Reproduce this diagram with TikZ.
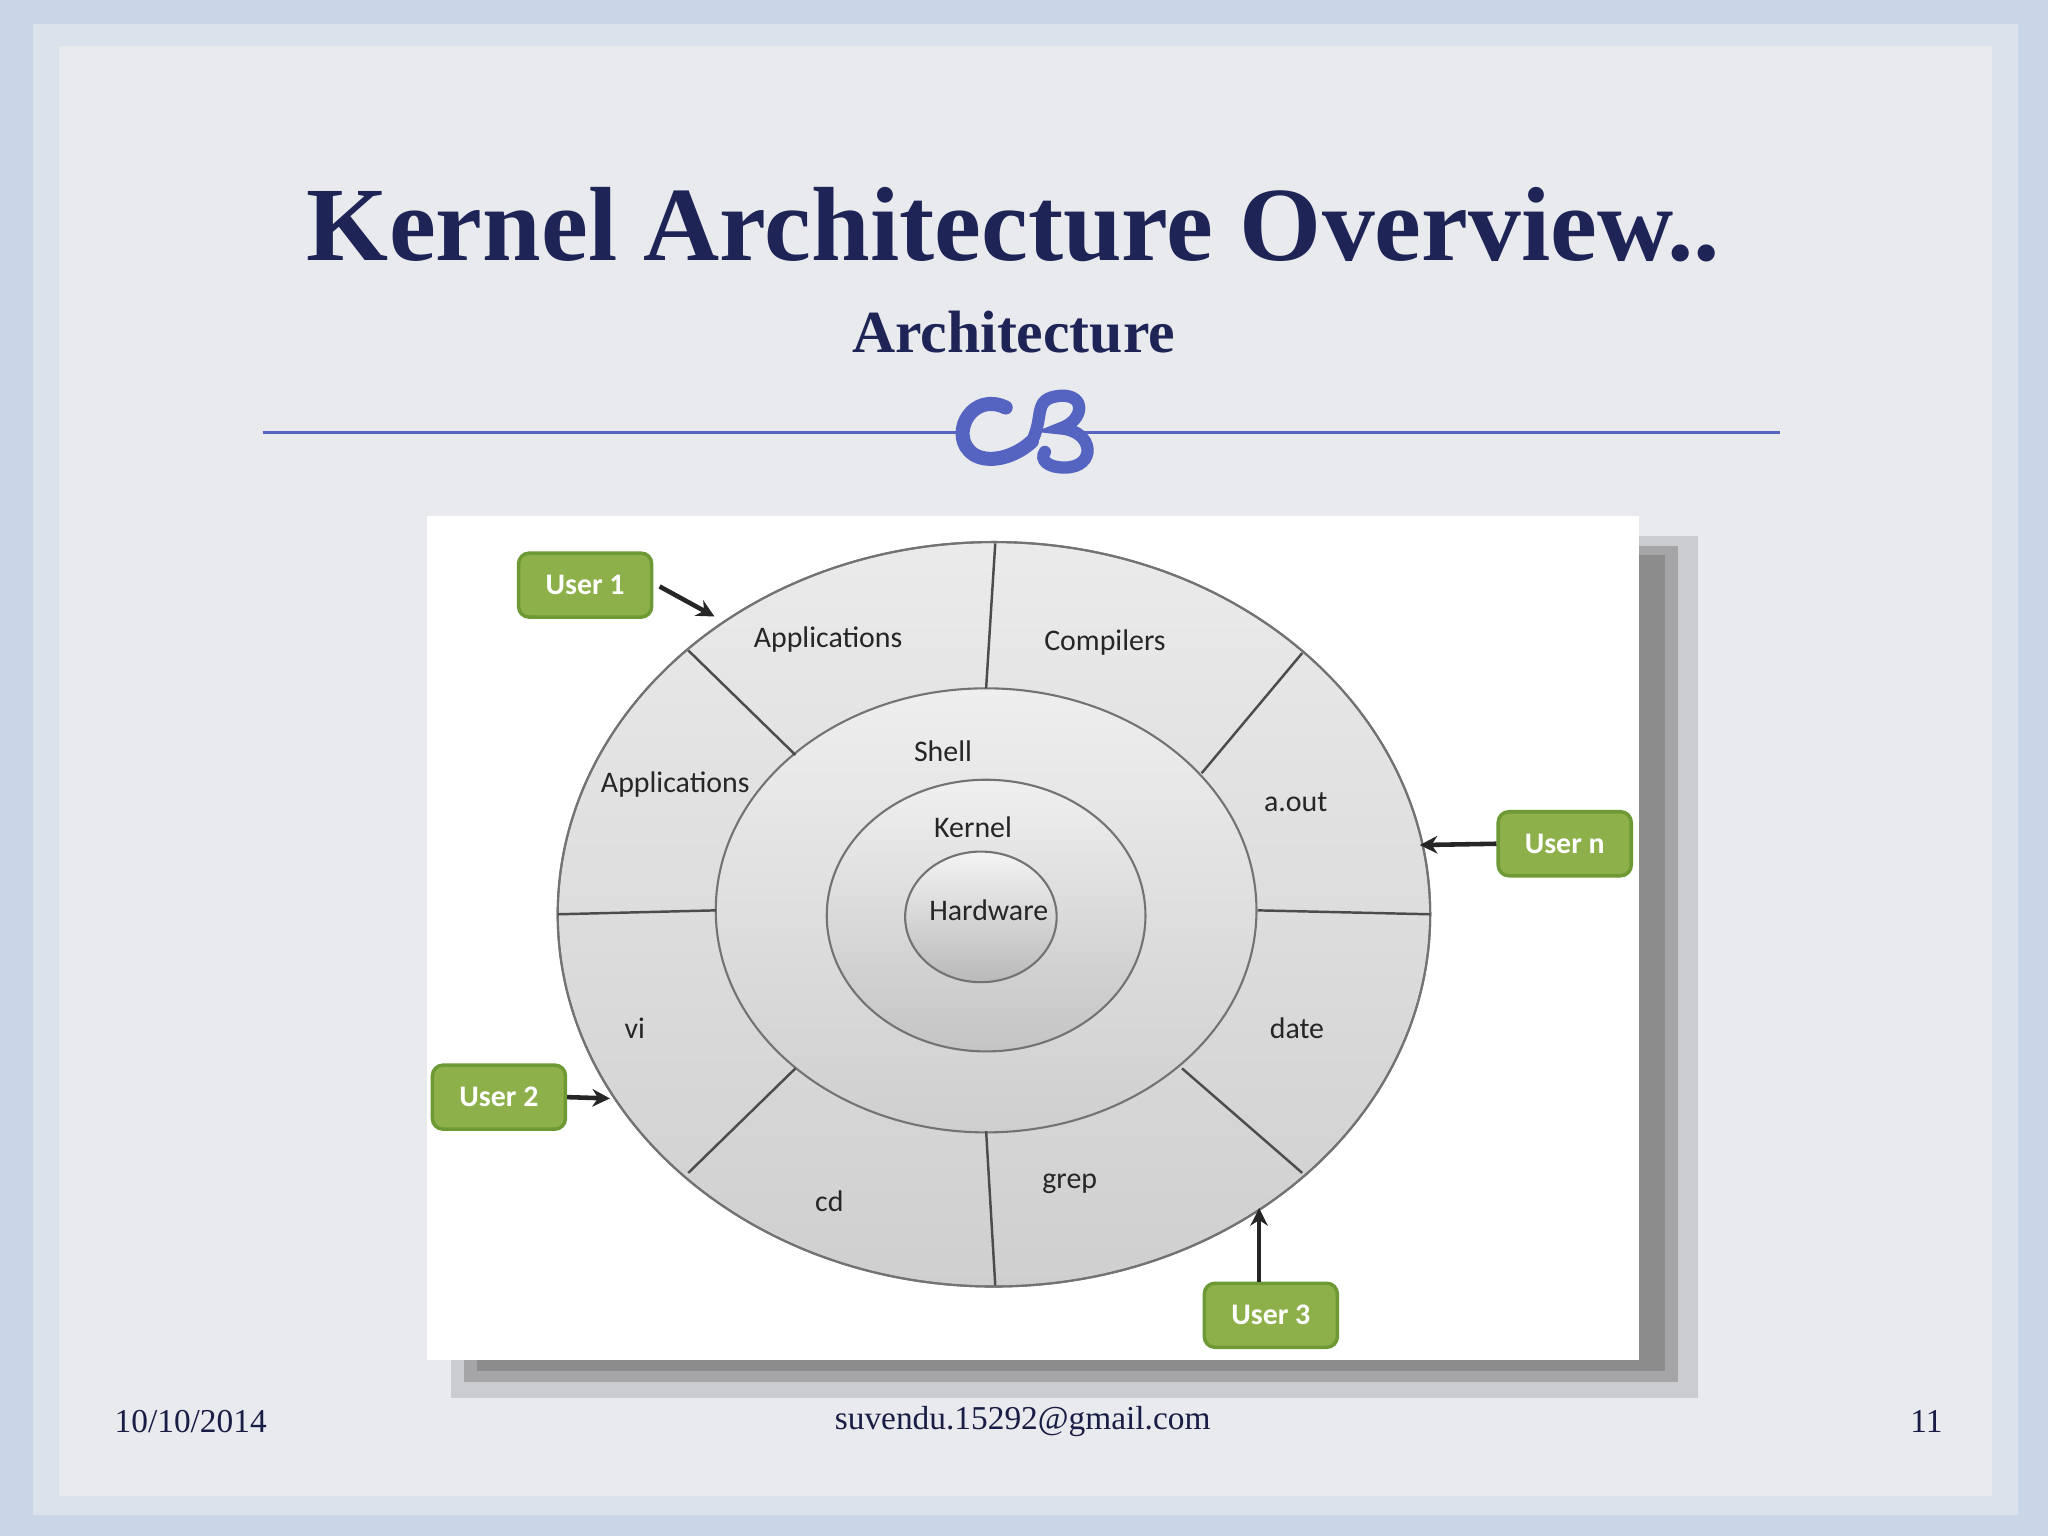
\documentclass[tikz,border=0pt]{standalone}
\usepackage{fontspec}
\setmainfont{Liberation Serif}
\newfontfamily\lblfont{Carlito}
\usetikzlibrary{arrows.meta,shadows.blur}
\definecolor{navy}{HTML}{1F2456}
\definecolor{orn}{HTML}{5563C1}
\definecolor{ugreen}{HTML}{8DB04A}
\definecolor{ugreenb}{HTML}{6E9A35}
\definecolor{panel}{HTML}{E9EAEE}
\definecolor{outer}{HTML}{C8D6E8}
\definecolor{ringfill}{HTML}{DADADA}
\tikzset{
  lbl/.style={font=\lblfont\fontsize{8.5}{10}\selectfont,text=black!85},
  user/.style={draw=ugreenb,line width=1pt,fill=ugreen,rounded corners=3pt,minimum width=1.33cm,minimum height=0.64cm,text=white,font=\lblfont\bfseries\fontsize{8.5}{10}\selectfont},
  arr/.style={-{Stealth[length=5pt,width=5pt]},line width=1.3pt,black!85},
  ring/.style={draw=black!55,line width=0.6pt},
  div/.style={draw=black!70,line width=0.7pt},
  foot/.style={font=\fontsize{9.5}{11}\selectfont,text=navy!80!black}
}
\begin{document}
\begin{tikzpicture}[x=0.0130612cm,y=-0.0130612cm]
\useasboundingbox (0,0) rectangle (1568,1176);
\fill[outer] (0,0) rectangle (1568,1176);
\fill[panel!60!outer] (25,18) rectangle (1545,1160);
\fill[panel] (45,35) rectangle (1525,1145);
% title
\node[font=\bfseries\fontsize{30}{34}\selectfont,text=navy] (title) at (776,172) {Kernel Architecture Overview..};
\node[font=\bfseries\fontsize{17}{20}\selectfont,text=navy] (sub) at (776,254) {Architecture};
\draw[orn,line width=1pt] (201,331) -- (735,331);
\draw[orn,line width=1pt] (830,331) -- (1363,331);
% ornament
\draw[orn,line width=4pt,line cap=round] (770,312) .. controls (745,300) and (728,330) .. (742,345) .. controls (752,356) and (775,352) .. (790,338);
\draw[orn,line width=3.5pt,line cap=round] (790,338) .. controls (800,318) and (790,305) .. (812,303) .. controls (832,302) and (830,322) .. (812,328) .. controls (838,330) and (840,358) .. (815,358) .. controls (802,358) and (796,352) .. (800,346);
% image panel with shadow
\fill[black!55,opacity=0.25] (345,410) rectangle (1300,1070);
\fill[black!50,opacity=0.5] (355,418) rectangle (1285,1058);
\fill[black!45] (365,425) rectangle (1275,1050);
\fill[white] (327,395) rectangle (1255,1041);
% ellipses
\coordinate (c) at (761,700);
\shade[ring,top color=ringfill!55,bottom color=ringfill!95!black] (761,700) ellipse [x radius=334,y radius=285];
\draw[ring] (761,700) ellipse [x radius=334,y radius=285];
\shade[top color=ringfill!45,bottom color=ringfill!95!black] (755,697) ellipse [x radius=207,y radius=170];
\draw[ring] (755,697) ellipse [x radius=207,y radius=170];
\shade[top color=ringfill!40,bottom color=ringfill!90!black] (755,701) ellipse [x radius=122,y radius=104];
\draw[ring] (755,701) ellipse [x radius=122,y radius=104];
\shade[top color=ringfill!30,bottom color=ringfill!85!black] (751,702) ellipse [x radius=58,y radius=50];
\draw[ring] (751,702) ellipse [x radius=58,y radius=50];
% dividers
\draw[div] (762,416) -- (755,527);
\draw[div] (527,498) -- (609,578);
\draw[div] (997,500) -- (920,592);
\draw[div] (427,700) -- (548,697);
\draw[div] (963,697) -- (1095,700);
\draw[div] (527,898) -- (609,818);
\draw[div] (755,866) -- (762,984);
\draw[div] (905,818) -- (997,898);
% labels
\node[lbl] (l1) at (634,490) {Applications};
\node[lbl] (l2) at (846,492) {Compilers};
\node[lbl] (l3) at (517,601) {Applications};
\node[lbl] (l4) at (992,614) {a.out};
\node[lbl] (l5) at (486,787) {vi};
\node[lbl] (l6) at (993,787) {date};
\node[lbl] (l7) at (635,920) {cd};
\node[lbl] (l8) at (819,906) {grep};
\node[lbl] (l9) at (722,575) {Shell};
\node[lbl] (l10) at (745,633) {Kernel};
\node[lbl] (l11) at (757,697) {Hardware};
% users
\node[user] (u1) at (448,448) {User 1};
\node[user] (un) at (1198,646) {User n};
\node[user] (u2) at (382,840) {User 2};
\node[user] (u3) at (973,1007) {User 3};
\coordinate (t1) at (547,472);
\coordinate (tn) at (1087,647);
\coordinate (t2) at (467,841);
\coordinate (t3) at (964,925);
\draw[arr] (505,449) -- (t1);
\draw[arr] (un.west) -- (tn);
\draw[arr] (u2.east) -- (t2);
\draw[arr] (u3.north -| t3) -- (t3);
% footer
\node[foot] (d) at (146,1088) {10/10/2014};
\node[foot] (e) at (783,1088) {suvendu.15292@gmail.com};
\node[foot] (p) at (1475,1088) {11};
\end{tikzpicture}
\end{document}
